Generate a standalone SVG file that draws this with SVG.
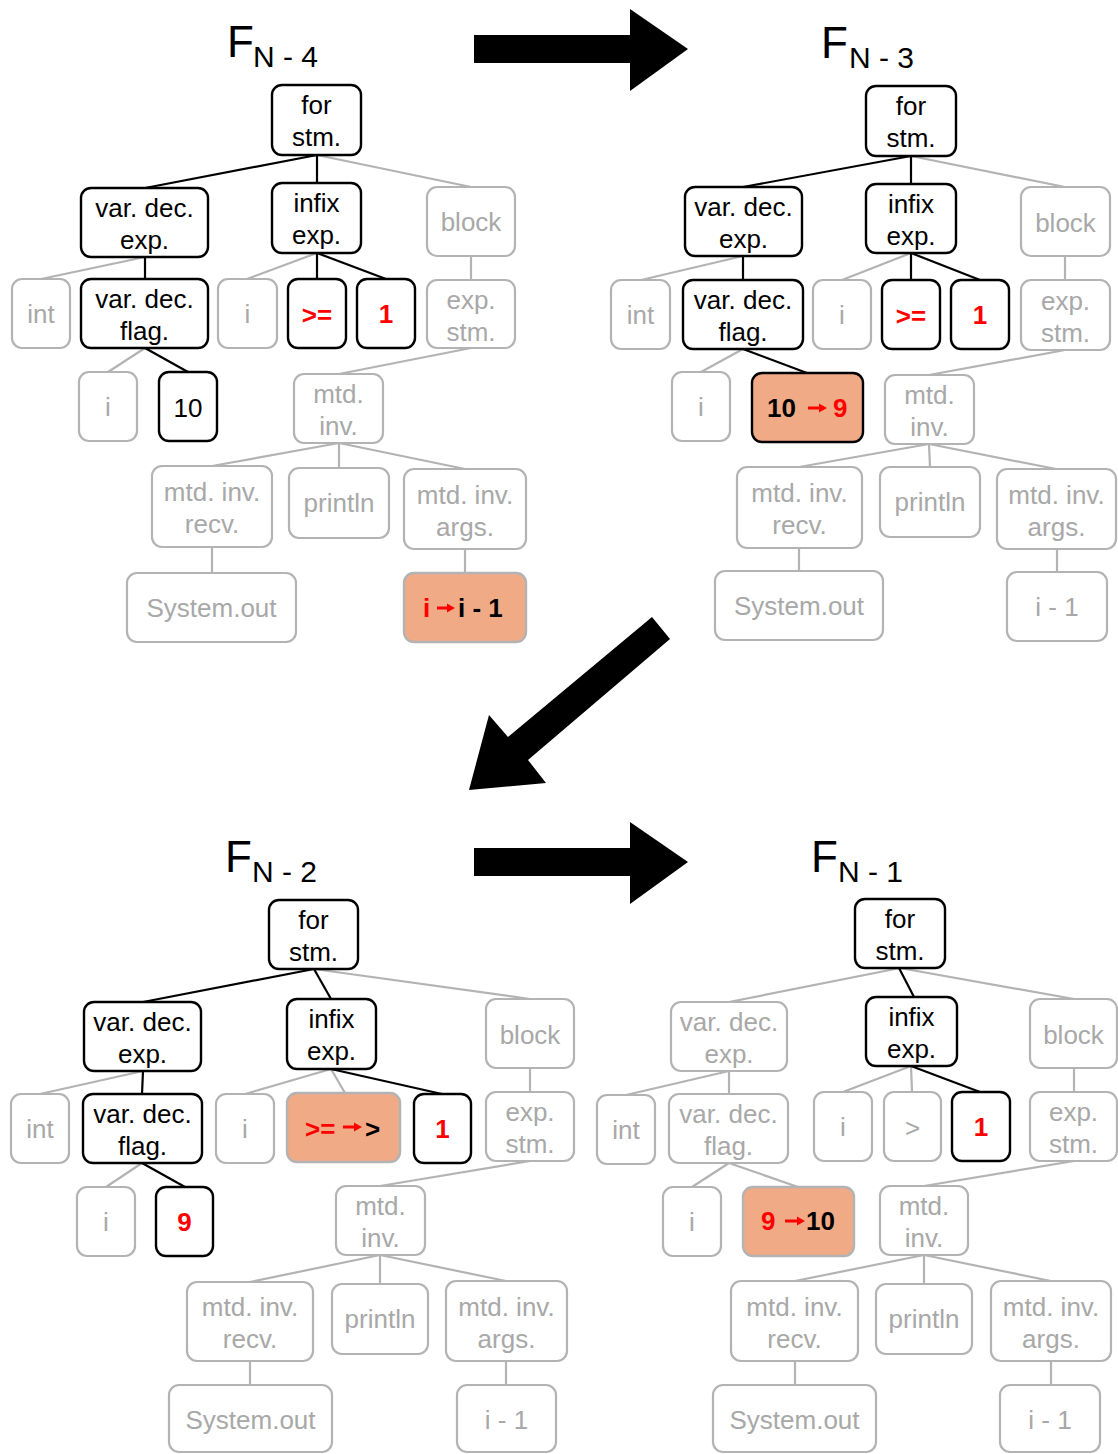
<svg xmlns="http://www.w3.org/2000/svg" width="1118" height="1454" viewBox="0 0 1118 1454">
  <style>
    text { font-family: "Liberation Sans", Arial, sans-serif; }
    .nb { fill: #ffffff; stroke: #000000; stroke-width: 2.4; }
    .ng { fill: #ffffff; stroke: #b3b3b3; stroke-width: 2.2; }
    .og { fill: #f1aa86; stroke: #b3b3b3; stroke-width: 2.4; }
    .ob { fill: #f1aa86; stroke: #000000; stroke-width: 2.4; }
    .lb { font-size: 26px; text-anchor: middle; fill: #000000; }
    .lg { font-size: 26px; text-anchor: middle; fill: #a8a8a8; }
    .lr { font-size: 26px; text-anchor: middle; fill: #ff0000; font-weight: bold; }
    .br { font-size: 26px; fill: #ff0000; font-weight: bold; }
    .bk { font-size: 26px; fill: #000000; font-weight: bold; }
    .eb { stroke: #000000; stroke-width: 2.2; fill: none; }
    .eg { stroke: #b3b3b3; stroke-width: 2.2; fill: none; }
    .sa { fill: #ff0000; }
    .big { fill: #000000; }
    .tf { font-size: 44px; fill: #000000; }
    .ts { font-size: 30px; fill: #000000; }
  </style>

  <!-- step arrows between the four frames -->
  <g id="step-arrows">
    <polygon class="big" points="474,35 630,35 630,9 688,49 630,91 630,63 474,63"/>
    <polygon class="big" points="652,617 670,639 528,760 546,783 469,790 489,715 508,737"/>
    <polygon class="big" points="474,848 630,848 630,822 688,862 630,904 630,876 474,876"/>
  </g>

  <!-- frame titles -->
  <g id="titles">
    <text x="227" y="57"><tspan class="tf">F</tspan></text>
    <text x="253" y="67" class="ts">N - 4</text>
    <text x="821" y="58"><tspan class="tf">F</tspan></text>
    <text x="849" y="68" class="ts">N - 3</text>
    <text x="225" y="872"><tspan class="tf">F</tspan></text>
    <text x="252" y="882" class="ts">N - 2</text>
    <text x="811" y="872"><tspan class="tf">F</tspan></text>
    <text x="838" y="882" class="ts">N - 1</text>
  </g>

  <!-- tree edges -->
  <g id="connectors">
    <!-- frame N-4 -->
    <line class="eg" x1="317" y1="155" x2="471" y2="187"/>
    <line class="eg" x1="145" y1="257" x2="41" y2="279"/>
    <line class="eg" x1="317" y1="253" x2="247" y2="279"/>
    <line class="eg" x1="471" y1="256" x2="471" y2="280"/>
    <line class="eg" x1="145" y1="348" x2="108" y2="372"/>
    <line class="eg" x1="471" y1="348" x2="339" y2="374"/>
    <line class="eg" x1="339" y1="443" x2="212" y2="466"/>
    <line class="eg" x1="339" y1="443" x2="339" y2="468"/>
    <line class="eg" x1="339" y1="443" x2="465" y2="469"/>
    <line class="eg" x1="212" y1="547" x2="212" y2="573"/>
    <line class="eg" x1="465" y1="549" x2="465" y2="573"/>
    <line class="eb" x1="317" y1="155" x2="145" y2="188"/>
    <line class="eb" x1="317" y1="155" x2="317" y2="183"/>
    <line class="eb" x1="145" y1="257" x2="145" y2="279"/>
    <line class="eb" x1="317" y1="253" x2="317" y2="279"/>
    <line class="eb" x1="317" y1="253" x2="386" y2="279"/>
    <line class="eb" x1="145" y1="348" x2="188" y2="372"/>
    <!-- frame N-3 -->
    <line class="eg" x1="911" y1="156" x2="1065" y2="187"/>
    <line class="eg" x1="743" y1="256" x2="641" y2="280"/>
    <line class="eg" x1="911" y1="253" x2="842" y2="280"/>
    <line class="eg" x1="1065" y1="256" x2="1065" y2="280"/>
    <line class="eg" x1="743" y1="349" x2="701" y2="372"/>
    <line class="eg" x1="1065" y1="350" x2="929" y2="375"/>
    <line class="eg" x1="929" y1="444" x2="799" y2="467"/>
    <line class="eg" x1="929" y1="444" x2="930" y2="467"/>
    <line class="eg" x1="929" y1="444" x2="1056" y2="469"/>
    <line class="eg" x1="799" y1="548" x2="799" y2="571"/>
    <line class="eg" x1="1057" y1="549" x2="1057" y2="572"/>
    <line class="eb" x1="911" y1="156" x2="743" y2="187"/>
    <line class="eb" x1="911" y1="156" x2="911" y2="184"/>
    <line class="eb" x1="743" y1="256" x2="743" y2="280"/>
    <line class="eb" x1="911" y1="253" x2="911" y2="280"/>
    <line class="eb" x1="911" y1="253" x2="980" y2="280"/>
    <line class="eb" x1="743" y1="349" x2="807" y2="373"/>
    <!-- frame N-2 -->
    <line class="eg" x1="314" y1="969" x2="530" y2="999"/>
    <line class="eg" x1="143" y1="1071" x2="40" y2="1094"/>
    <line class="eg" x1="331" y1="1069" x2="245" y2="1094"/>
    <line class="eg" x1="331" y1="1069" x2="345" y2="1093"/>
    <line class="eg" x1="530" y1="1068" x2="530" y2="1092"/>
    <line class="eg" x1="142" y1="1163" x2="106" y2="1187"/>
    <line class="eg" x1="530" y1="1161" x2="380" y2="1186"/>
    <line class="eg" x1="380" y1="1255" x2="250" y2="1282"/>
    <line class="eg" x1="380" y1="1255" x2="380" y2="1284"/>
    <line class="eg" x1="380" y1="1255" x2="506" y2="1281"/>
    <line class="eg" x1="250" y1="1361" x2="250" y2="1385"/>
    <line class="eg" x1="506" y1="1361" x2="506" y2="1385"/>
    <line class="eb" x1="314" y1="969" x2="143" y2="1002"/>
    <line class="eb" x1="314" y1="969" x2="331" y2="999"/>
    <line class="eb" x1="143" y1="1071" x2="142" y2="1094"/>
    <line class="eb" x1="331" y1="1069" x2="442" y2="1094"/>
    <line class="eb" x1="142" y1="1163" x2="185" y2="1187"/>
    <!-- frame N-1 -->
    <line class="eg" x1="900" y1="968" x2="729" y2="1002"/>
    <line class="eg" x1="900" y1="968" x2="1074" y2="999"/>
    <line class="eg" x1="729" y1="1071" x2="626" y2="1095"/>
    <line class="eg" x1="729" y1="1071" x2="729" y2="1094"/>
    <line class="eg" x1="911" y1="1066" x2="843" y2="1092"/>
    <line class="eg" x1="911" y1="1066" x2="912" y2="1092"/>
    <line class="eg" x1="1074" y1="1068" x2="1074" y2="1092"/>
    <line class="eg" x1="729" y1="1163" x2="692" y2="1187"/>
    <line class="eg" x1="729" y1="1163" x2="798" y2="1187"/>
    <line class="eg" x1="1074" y1="1161" x2="924" y2="1186"/>
    <line class="eg" x1="924" y1="1255" x2="795" y2="1281"/>
    <line class="eg" x1="924" y1="1255" x2="924" y2="1284"/>
    <line class="eg" x1="924" y1="1255" x2="1051" y2="1281"/>
    <line class="eg" x1="795" y1="1361" x2="795" y2="1385"/>
    <line class="eg" x1="1051" y1="1361" x2="1051" y2="1385"/>
    <line class="eb" x1="899" y1="968" x2="914" y2="997"/>
    <line class="eb" x1="911" y1="1066" x2="980" y2="1092"/>
  </g>

  <!-- ===== frame N-4 ===== -->
  <g id="a-for"><rect class="nb" x="272" y="85" width="89" height="70" rx="10"/>
    <text class="lb"><tspan x="316.5" y="114">for</tspan><tspan x="316.5" y="146">stm.</tspan></text></g>
  <g id="a-vde"><rect class="nb" x="81" y="188" width="127" height="69" rx="10"/>
    <text class="lb"><tspan x="144.5" y="217">var. dec.</tspan><tspan x="144.5" y="249">exp.</tspan></text></g>
  <g id="a-infix"><rect class="nb" x="272" y="183" width="89" height="70" rx="10"/>
    <text class="lb"><tspan x="316.5" y="212">infix</tspan><tspan x="316.5" y="244">exp.</tspan></text></g>
  <g id="a-block"><rect class="ng" x="427" y="187" width="88" height="69" rx="10"/>
    <text class="lg" x="471" y="231">block</text></g>
  <g id="a-int"><rect class="ng" x="12" y="279" width="58" height="69" rx="10"/>
    <text class="lg" x="41" y="323">int</text></g>
  <g id="a-vdf"><rect class="nb" x="81" y="279" width="127" height="69" rx="10"/>
    <text class="lb"><tspan x="144.5" y="308">var. dec.</tspan><tspan x="144.5" y="340">flag.</tspan></text></g>
  <g id="a-i"><rect class="ng" x="218" y="279" width="59" height="69" rx="10"/>
    <text class="lg" x="247.5" y="323">i</text></g>
  <g id="a-op"><rect class="nb" x="288" y="279" width="58" height="69" rx="10"/>
    <text class="lr" x="317" y="324">&gt;=</text></g>
  <g id="a-one"><rect class="nb" x="357" y="279" width="58" height="69" rx="10"/>
    <text class="lr" x="386" y="323">1</text></g>
  <g id="a-exps"><rect class="ng" x="427" y="280" width="88" height="68" rx="10"/>
    <text class="lg"><tspan x="471" y="309">exp.</tspan><tspan x="471" y="341">stm.</tspan></text></g>
  <g id="a-var"><rect class="ng" x="79" y="372" width="58" height="69" rx="10"/>
    <text class="lg" x="108" y="416">i</text></g>
  <g id="a-init"><rect class="nb" x="159" y="372" width="58" height="69" rx="10"/>
    <text class="lb" x="188" y="417">10</text></g>
  <g id="a-mtd"><rect class="ng" x="294" y="374" width="89" height="69" rx="10"/>
    <text class="lg"><tspan x="338.5" y="403">mtd.</tspan><tspan x="338.5" y="435">inv.</tspan></text></g>
  <g id="a-recv"><rect class="ng" x="152" y="466" width="120" height="81" rx="10"/>
    <text class="lg"><tspan x="212" y="501">mtd. inv.</tspan><tspan x="212" y="533">recv.</tspan></text></g>
  <g id="a-println"><rect class="ng" x="289" y="468" width="100" height="70" rx="10"/>
    <text class="lg" x="339" y="512">println</text></g>
  <g id="a-args"><rect class="ng" x="404" y="469" width="122" height="80" rx="10"/>
    <text class="lg"><tspan x="465" y="504">mtd. inv.</tspan><tspan x="465" y="536">args.</tspan></text></g>
  <g id="a-sysout"><rect class="ng" x="127" y="573" width="169" height="69" rx="10"/>
    <text class="lg" x="211.5" y="617">System.out</text></g>
  <g id="a-arg"><rect class="og" x="404" y="573" width="122" height="69" rx="10"/>
    <text class="br" x="423" y="617">i</text>
    <path class="sa" d="M437,606.5 h10 v-3 l8,4.5 l-8,4.5 v-3 h-10 z"/>
    <text class="bk" x="458" y="617">i - 1</text></g>

  <!-- ===== frame N-3 ===== -->
  <g id="b-for"><rect class="nb" x="866" y="86" width="90" height="70" rx="10"/>
    <text class="lb"><tspan x="911" y="115">for</tspan><tspan x="911" y="147">stm.</tspan></text></g>
  <g id="b-vde"><rect class="nb" x="685" y="187" width="117" height="69" rx="10"/>
    <text class="lb"><tspan x="743.5" y="216">var. dec.</tspan><tspan x="743.5" y="248">exp.</tspan></text></g>
  <g id="b-infix"><rect class="nb" x="866" y="184" width="90" height="69" rx="10"/>
    <text class="lb"><tspan x="911" y="213">infix</tspan><tspan x="911" y="245">exp.</tspan></text></g>
  <g id="b-block"><rect class="ng" x="1021" y="187" width="89" height="69" rx="10"/>
    <text class="lg" x="1065.5" y="232">block</text></g>
  <g id="b-int"><rect class="ng" x="611" y="280" width="59" height="69" rx="10"/>
    <text class="lg" x="640.5" y="324">int</text></g>
  <g id="b-vdf"><rect class="nb" x="683" y="280" width="120" height="69" rx="10"/>
    <text class="lb"><tspan x="743" y="309">var. dec.</tspan><tspan x="743" y="341">flag.</tspan></text></g>
  <g id="b-i"><rect class="ng" x="813" y="280" width="58" height="69" rx="10"/>
    <text class="lg" x="842" y="324">i</text></g>
  <g id="b-op"><rect class="nb" x="882" y="280" width="58" height="69" rx="10"/>
    <text class="lr" x="911" y="325">&gt;=</text></g>
  <g id="b-one"><rect class="nb" x="951" y="280" width="58" height="69" rx="10"/>
    <text class="lr" x="980" y="324">1</text></g>
  <g id="b-exps"><rect class="ng" x="1021" y="280" width="89" height="70" rx="10"/>
    <text class="lg"><tspan x="1065.5" y="310">exp.</tspan><tspan x="1065.5" y="342">stm.</tspan></text></g>
  <g id="b-var"><rect class="ng" x="672" y="372" width="58" height="69" rx="10"/>
    <text class="lg" x="701" y="416">i</text></g>
  <g id="b-init"><rect class="ob" x="752" y="373" width="111" height="69" rx="10"/>
    <text class="bk" x="767" y="417">10</text>
    <path class="sa" d="M808,406.5 h11 v-3 l8,4.5 l-8,4.5 v-3 h-11 z"/>
    <text class="br" x="833" y="417">9</text></g>
  <g id="b-mtd"><rect class="ng" x="885" y="375" width="89" height="69" rx="10"/>
    <text class="lg"><tspan x="929.5" y="404">mtd.</tspan><tspan x="929.5" y="436">inv.</tspan></text></g>
  <g id="b-recv"><rect class="ng" x="737" y="467" width="125" height="81" rx="10"/>
    <text class="lg"><tspan x="799.5" y="502">mtd. inv.</tspan><tspan x="799.5" y="534">recv.</tspan></text></g>
  <g id="b-println"><rect class="ng" x="880" y="467" width="100" height="70" rx="10"/>
    <text class="lg" x="930" y="511">println</text></g>
  <g id="b-args"><rect class="ng" x="997" y="469" width="119" height="80" rx="10"/>
    <text class="lg"><tspan x="1056.5" y="504">mtd. inv.</tspan><tspan x="1056.5" y="536">args.</tspan></text></g>
  <g id="b-sysout"><rect class="ng" x="715" y="571" width="168" height="69" rx="10"/>
    <text class="lg" x="799" y="615">System.out</text></g>
  <g id="b-arg"><rect class="ng" x="1007" y="572" width="100" height="69" rx="10"/>
    <text class="lg" x="1057" y="616">i - 1</text></g>

  <!-- ===== frame N-2 ===== -->
  <g id="c-for"><rect class="nb" x="269" y="900" width="89" height="69" rx="10"/>
    <text class="lb"><tspan x="313.5" y="929">for</tspan><tspan x="313.5" y="961">stm.</tspan></text></g>
  <g id="c-vde"><rect class="nb" x="84" y="1002" width="117" height="69" rx="10"/>
    <text class="lb"><tspan x="142.5" y="1031">var. dec.</tspan><tspan x="142.5" y="1063">exp.</tspan></text></g>
  <g id="c-infix"><rect class="nb" x="287" y="999" width="89" height="70" rx="10"/>
    <text class="lb"><tspan x="331.5" y="1028">infix</tspan><tspan x="331.5" y="1060">exp.</tspan></text></g>
  <g id="c-block"><rect class="ng" x="486" y="999" width="88" height="69" rx="10"/>
    <text class="lg" x="530" y="1044">block</text></g>
  <g id="c-int"><rect class="ng" x="11" y="1094" width="58" height="69" rx="10"/>
    <text class="lg" x="40" y="1138">int</text></g>
  <g id="c-vdf"><rect class="nb" x="83" y="1094" width="119" height="69" rx="10"/>
    <text class="lb"><tspan x="142.5" y="1123">var. dec.</tspan><tspan x="142.5" y="1155">flag.</tspan></text></g>
  <g id="c-i"><rect class="ng" x="216" y="1094" width="58" height="69" rx="10"/>
    <text class="lg" x="245" y="1138">i</text></g>
  <g id="c-op"><rect class="og" x="287" y="1093" width="113" height="69" rx="10"/>
    <text class="br" x="305" y="1138">&gt;=</text>
    <path class="sa" d="M343,1125.5 h11 v-3 l8,4.5 l-8,4.5 v-3 h-11 z"/>
    <text class="bk" x="365" y="1138">&gt;</text></g>
  <g id="c-one"><rect class="nb" x="414" y="1094" width="57" height="69" rx="10"/>
    <text class="lr" x="442.5" y="1138">1</text></g>
  <g id="c-exps"><rect class="ng" x="486" y="1092" width="88" height="69" rx="10"/>
    <text class="lg"><tspan x="530" y="1121">exp.</tspan><tspan x="530" y="1153">stm.</tspan></text></g>
  <g id="c-var"><rect class="ng" x="77" y="1187" width="58" height="69" rx="10"/>
    <text class="lg" x="106" y="1231">i</text></g>
  <g id="c-init"><rect class="nb" x="156" y="1187" width="57" height="69" rx="10"/>
    <text class="lr" x="184.5" y="1231">9</text></g>
  <g id="c-mtd"><rect class="ng" x="336" y="1186" width="89" height="69" rx="10"/>
    <text class="lg"><tspan x="380.5" y="1215">mtd.</tspan><tspan x="380.5" y="1247">inv.</tspan></text></g>
  <g id="c-recv"><rect class="ng" x="187" y="1282" width="126" height="79" rx="10"/>
    <text class="lg"><tspan x="250" y="1316">mtd. inv.</tspan><tspan x="250" y="1348">recv.</tspan></text></g>
  <g id="c-println"><rect class="ng" x="332" y="1284" width="96" height="70" rx="10"/>
    <text class="lg" x="380" y="1328">println</text></g>
  <g id="c-args"><rect class="ng" x="446" y="1281" width="121" height="80" rx="10"/>
    <text class="lg"><tspan x="506.5" y="1316">mtd. inv.</tspan><tspan x="506.5" y="1348">args.</tspan></text></g>
  <g id="c-sysout"><rect class="ng" x="169" y="1385" width="163" height="67" rx="10"/>
    <text class="lg" x="250.5" y="1429">System.out</text></g>
  <g id="c-arg"><rect class="ng" x="457" y="1385" width="99" height="67" rx="10"/>
    <text class="lg" x="506.5" y="1429">i - 1</text></g>

  <!-- ===== frame N-1 ===== -->
  <g id="d-for"><rect class="nb" x="855" y="899" width="90" height="69" rx="10"/>
    <text class="lb"><tspan x="900" y="928">for</tspan><tspan x="900" y="960">stm.</tspan></text></g>
  <g id="d-vde"><rect class="ng" x="671" y="1002" width="116" height="69" rx="10"/>
    <text class="lg"><tspan x="729" y="1031">var. dec.</tspan><tspan x="729" y="1063">exp.</tspan></text></g>
  <g id="d-infix"><rect class="nb" x="866" y="997" width="91" height="69" rx="10"/>
    <text class="lb"><tspan x="911.5" y="1026">infix</tspan><tspan x="911.5" y="1058">exp.</tspan></text></g>
  <g id="d-block"><rect class="ng" x="1030" y="999" width="87" height="69" rx="10"/>
    <text class="lg" x="1073.5" y="1044">block</text></g>
  <g id="d-int"><rect class="ng" x="597" y="1095" width="58" height="69" rx="10"/>
    <text class="lg" x="626" y="1139">int</text></g>
  <g id="d-vdf"><rect class="ng" x="669" y="1094" width="119" height="69" rx="10"/>
    <text class="lg"><tspan x="728.5" y="1123">var. dec.</tspan><tspan x="728.5" y="1155">flag.</tspan></text></g>
  <g id="d-i"><rect class="ng" x="814" y="1092" width="58" height="69" rx="10"/>
    <text class="lg" x="843" y="1136">i</text></g>
  <g id="d-op"><rect class="ng" x="884" y="1092" width="57" height="69" rx="10"/>
    <text class="lg" x="912.5" y="1137">&gt;</text></g>
  <g id="d-one"><rect class="nb" x="952" y="1092" width="58" height="69" rx="10"/>
    <text class="lr" x="981" y="1136">1</text></g>
  <g id="d-exps"><rect class="ng" x="1030" y="1092" width="87" height="69" rx="10"/>
    <text class="lg"><tspan x="1073.5" y="1121">exp.</tspan><tspan x="1073.5" y="1153">stm.</tspan></text></g>
  <g id="d-var"><rect class="ng" x="663" y="1187" width="58" height="69" rx="10"/>
    <text class="lg" x="692" y="1231">i</text></g>
  <g id="d-init"><rect class="og" x="743" y="1187" width="111" height="69" rx="10"/>
    <text class="br" x="761" y="1230">9</text>
    <path class="sa" d="M785,1219.5 h12 v-3 l8,4.5 l-8,4.5 v-3 h-12 z"/>
    <text class="bk" x="806" y="1230">10</text></g>
  <g id="d-mtd"><rect class="ng" x="880" y="1186" width="88" height="69" rx="10"/>
    <text class="lg"><tspan x="924" y="1215">mtd.</tspan><tspan x="924" y="1247">inv.</tspan></text></g>
  <g id="d-recv"><rect class="ng" x="731" y="1281" width="127" height="80" rx="10"/>
    <text class="lg"><tspan x="794.5" y="1316">mtd. inv.</tspan><tspan x="794.5" y="1348">recv.</tspan></text></g>
  <g id="d-println"><rect class="ng" x="876" y="1284" width="96" height="70" rx="10"/>
    <text class="lg" x="924" y="1328">println</text></g>
  <g id="d-args"><rect class="ng" x="991" y="1281" width="120" height="80" rx="10"/>
    <text class="lg"><tspan x="1051" y="1316">mtd. inv.</tspan><tspan x="1051" y="1348">args.</tspan></text></g>
  <g id="d-sysout"><rect class="ng" x="713" y="1385" width="163" height="67" rx="10"/>
    <text class="lg" x="794.5" y="1429">System.out</text></g>
  <g id="d-arg"><rect class="ng" x="1000" y="1385" width="100" height="67" rx="10"/>
    <text class="lg" x="1050" y="1429">i - 1</text></g>
</svg>
